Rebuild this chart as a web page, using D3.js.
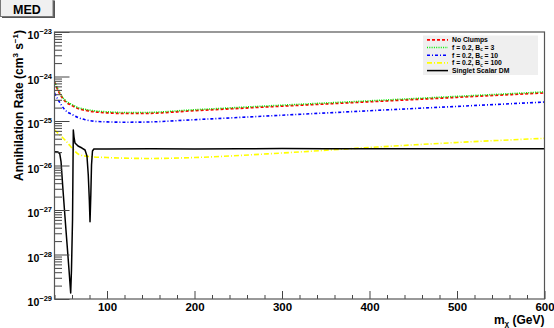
<!DOCTYPE html>
<html>
<head>
<meta charset="utf-8">
<script src="https://cdn.jsdelivr.net/npm/d3@7"></script>
<style>
  body { margin: 0; background: #fff; }
  svg { display: block; font-family: "Liberation Sans", Arial, Helvetica, sans-serif; }
</style>
</head>
<body>
<script>
// values (mass in GeV, rate in cm^3 s^-1)
var massSmooth = [40, 45, 52, 60, 67, 75, 86, 100, 120, 140, 200, 300, 400, 500, 600];
var rateNoClumps = [7.52e-25, 4.49e-25, 2.81e-25, 2.23e-25, 1.91e-25, 1.74e-25, 1.61e-25, 1.53e-25, 1.48e-25, 1.48e-25, 1.71e-25, 2.16e-25, 2.71e-25, 3.41e-25, 4.30e-25];
var rateBc3 = [7.7e-25, 4.7e-25, 2.95e-25, 2.34e-25, 2.0e-25, 1.83e-25, 1.69e-25, 1.61e-25, 1.55e-25, 1.55e-25, 1.79e-25, 2.27e-25, 2.84e-25, 3.58e-25, 4.5e-25];
var rateBc10 = [4.26e-25, 2.81e-25, 1.77e-25, 1.40e-25, 1.20e-25, 1.07e-25, 9.85e-26, 9.55e-26, 9.40e-26, 9.44e-26, 1.07e-25, 1.35e-25, 1.70e-25, 2.13e-25, 2.67e-25];

var massBc100 = [40, 45, 52, 58, 63, 68, 80, 100, 130, 150, 200, 300, 400, 500, 600];
var rateBc100 = [6.28e-26, 5.10e-26, 3.74e-26, 2.74e-26, 2.12e-26, 1.77e-26, 1.59e-26, 1.51e-26, 1.45e-26, 1.44e-26, 1.51e-26, 1.91e-26, 2.54e-26, 3.29e-26, 4.08e-26];

var massSinglet = [40, 44, 46, 47.5, 49.7, 53.1, 56.6, 58.5, 59.4, 60.6, 61.1, 61.5, 62.3, 63.4, 66.9, 71.4, 74.9, 77.1, 78.6, 79.8, 80.6, 81.5, 82.3, 83.4, 85,
                   100, 150, 200, 250, 300, 350, 400, 500, 600];
var rateSinglet = [2.05e-26, 2.0e-26, 1.85e-26, 1.2e-26, 2.81e-27, 3.56e-28, 4.49e-29, 1.36e-29, 4.49e-29, 5.96e-28, 7.92e-27, 6.28e-26, 4.37e-26, 3.21e-26, 2.74e-26, 2.47e-26, 2.23e-26, 1.63e-26, 6.12e-27, 1.68e-27, 5.46e-28, 2.17e-27, 1.03e-26, 2.12e-26, 2.35e-26,
                   2.35e-26, 2.38e-26, 2.36e-26, 2.38e-26, 2.40e-26, 2.37e-26, 2.38e-26, 2.37e-26, 2.37e-26];

var xMajor = [100, 200, 300, 400, 500, 600];
var yDecades = [-29, -28, -27, -26, -25, -24, -23];

var legendLabels = [
  {t: "No Clumps"},
  {t: "f = 0.2, B", s: "c", e: " = 3"},
  {t: "f = 0.2, B", s: "c", e: " = 10"},
  {t: "f = 0.2, B", s: "c", e: " = 100"},
  {t: "Singlet Scalar DM"}
];

// Settings
var w = 554, h = 328;
var pLeft = 54.5, pRight = 544.5, pTop = 32, pBottom = 299;

var series = [
  {m: massSmooth, r: rateNoClumps, color: "#ff0000", dash: "3,2", width: 1.8},
  {m: massSmooth, r: rateBc3, color: "#00ee00", dash: "1,1.3", width: 1.6},
  {m: massSmooth, r: rateBc10, color: "#0000ff", dash: "3,2,1,2", width: 1.6},
  {m: massBc100, r: rateBc100, color: "#ffff00", dash: "5,2,1,2", width: 1.6},
  {m: massSinglet, r: rateSinglet, color: "#000000", dash: null, width: 1.5}
];

var xScale = d3.scaleLinear().domain([40, 600]).range([pLeft, pRight]);
var yScale = d3.scaleLog().domain([1e-29, 1e-23]).range([pBottom, pTop]);

var svg = d3.select("body").append("svg")
  .attr("width", w)
  .attr("height", h);

svg.append("defs").append("clipPath").attr("id", "plotclip")
  .append("rect")
  .attr("x", pLeft).attr("y", pTop)
  .attr("width", pRight - pLeft).attr("height", pBottom - pTop);

// Curves
var line = d3.line()
  .x(function(d) { return xScale(d[0]); })
  .y(function(d) { return yScale(d[1]); });

var plot = svg.append("g").attr("clip-path", "url(#plotclip)");
series.forEach(function(s, i) {
  var pts = s.m.map(function(m, j) { return [m, s.r[j]]; });
  line.curve(i == 4 ? d3.curveLinear : d3.curveMonotoneX);
  plot.append("path")
    .attr("d", line(pts))
    .attr("fill", "none")
    .attr("stroke", s.color)
    .attr("stroke-width", s.width)
    .attr("stroke-dasharray", s.dash)
    .attr("stroke-linejoin", "round");
});

// Minor ticks (log)
var yMinor = [];
yDecades.slice(0, -1).forEach(function(e) {
  for (var k = 2; k <= 9; k++) yMinor.push(k * Math.pow(10, e));
});
var xMinor = d3.range(40, 601, 20).filter(function(v) { return v % 100 != 0; });

svg.append("g")
  .attr("class", "axis")
  .attr("transform", "translate(" + pLeft + ",0)")
  .call(d3.axisLeft(yScale).tickValues(yMinor).tickSize(-7.5).tickFormat(""));

var yAx = svg.append("g")
  .attr("class", "axis")
  .attr("transform", "translate(" + pLeft + ",0)")
  .call(d3.axisLeft(yScale)
    .tickValues(yDecades.map(function(e) { return Math.pow(10, e); }))
    .tickSize(-15).tickFormat(""));

yAx.selectAll(".tick").each(function(d) {
  var e = Math.round(Math.log10(d));
  var t = d3.select(this).append("text")
    .attr("x", -2.5).attr("y", 6.5)
    .attr("text-anchor", "end")
    .attr("fill", "#000")
    .attr("font-weight", "bold")
    .attr("font-size", 10.5);
  t.append("tspan").text("10");
  t.append("tspan").attr("dy", -5).attr("font-size", 7.5).text("\u2212" + (-e));
});

svg.append("g")
  .attr("class", "axis")
  .attr("transform", "translate(0," + pBottom + ")")
  .call(d3.axisBottom(xScale).tickValues(xMinor).tickSize(-4).tickFormat(""));

svg.append("g")
  .attr("class", "axis xmaj")
  .attr("transform", "translate(0," + pBottom + ")")
  .call(d3.axisBottom(xScale).tickValues(xMajor).tickSize(-8).tickPadding(3.5).tickFormat(d3.format("d")));

svg.selectAll(".axis .domain").remove();
svg.selectAll(".axis line").attr("stroke", "#444");
svg.selectAll(".xmaj text")
  .attr("fill", "#000")
  .attr("font-size", 11.5)
  .attr("font-weight", "bold")
  .attr("font-family", "Liberation Sans, Arial, sans-serif");

// Frame
svg.append("rect")
  .attr("x", pLeft).attr("y", pTop)
  .attr("width", pRight - pLeft).attr("height", pBottom - pTop)
  .attr("fill", "none")
  .attr("stroke", "#555")
  .attr("stroke-width", 1.2);

// Axis titles
var yt = svg.append("text")
  .attr("transform", "translate(22.5," + 30 + ") rotate(-90)")
  .attr("text-anchor", "end")
  .attr("font-size", 12)
  .attr("font-weight", "bold");
yt.append("tspan").text("Annihilation Rate (cm");
yt.append("tspan").attr("dy", -5).attr("font-size", 8).text("3");
yt.append("tspan").attr("dy", 5).text(" s");
yt.append("tspan").attr("dy", -5).attr("font-size", 8).text("\u22121");
yt.append("tspan").attr("dy", 5).text(")");

var xt = svg.append("text")
  .attr("x", pRight).attr("y", 323.5)
  .attr("text-anchor", "end")
  .attr("font-size", 12)
  .attr("font-weight", "bold");
xt.append("tspan").text("m");
xt.append("tspan").attr("dy", 2.5).attr("font-size", 8).text("\u03c7");
xt.append("tspan").attr("dy", -2.5).text(" (GeV)");

// Title box
svg.append("rect")
  .attr("x", 2).attr("y", 0.5)
  .attr("width", 53).attr("height", 17.5)
  .attr("fill", "#555");
svg.append("rect")
  .attr("x", 0.5).attr("y", -1)
  .attr("width", 52.5).attr("height", 17.5)
  .attr("fill", "#f0f0f0")
  .attr("stroke", "#777")
  .attr("stroke-width", 1);
svg.append("text")
  .attr("x", 27).attr("y", 13.5)
  .attr("text-anchor", "middle")
  .attr("font-size", 12.5)
  .attr("font-weight", "bold")
  .text("MED");

// Legend
var lg = svg.append("g");
lg.append("rect")
  .attr("x", 423).attr("y", 35.5)
  .attr("width", 115).attr("height", 39.5)
  .attr("fill", "#efefef");
legendLabels.forEach(function(l, i) {
  var yy = 39.8 + i * 7.7;
  var s = series[i];
  lg.append("line")
    .attr("x1", 427).attr("x2", 448)
    .attr("y1", yy).attr("y2", yy)
    .attr("stroke", s.color)
    .attr("stroke-width", s.width)
    .attr("stroke-dasharray", s.dash);
  var t = lg.append("text")
    .attr("x", 452).attr("y", yy + 2.4)
    .attr("font-size", 6.8)
    .attr("font-weight", "bold");
  t.append("tspan").text(l.t);
  if (l.s) {
    t.append("tspan").attr("dy", 1.5).attr("font-size", 4.5).text(l.s);
    t.append("tspan").attr("dy", -1.5).text(l.e);
  }
});
</script>
</body>
</html>
